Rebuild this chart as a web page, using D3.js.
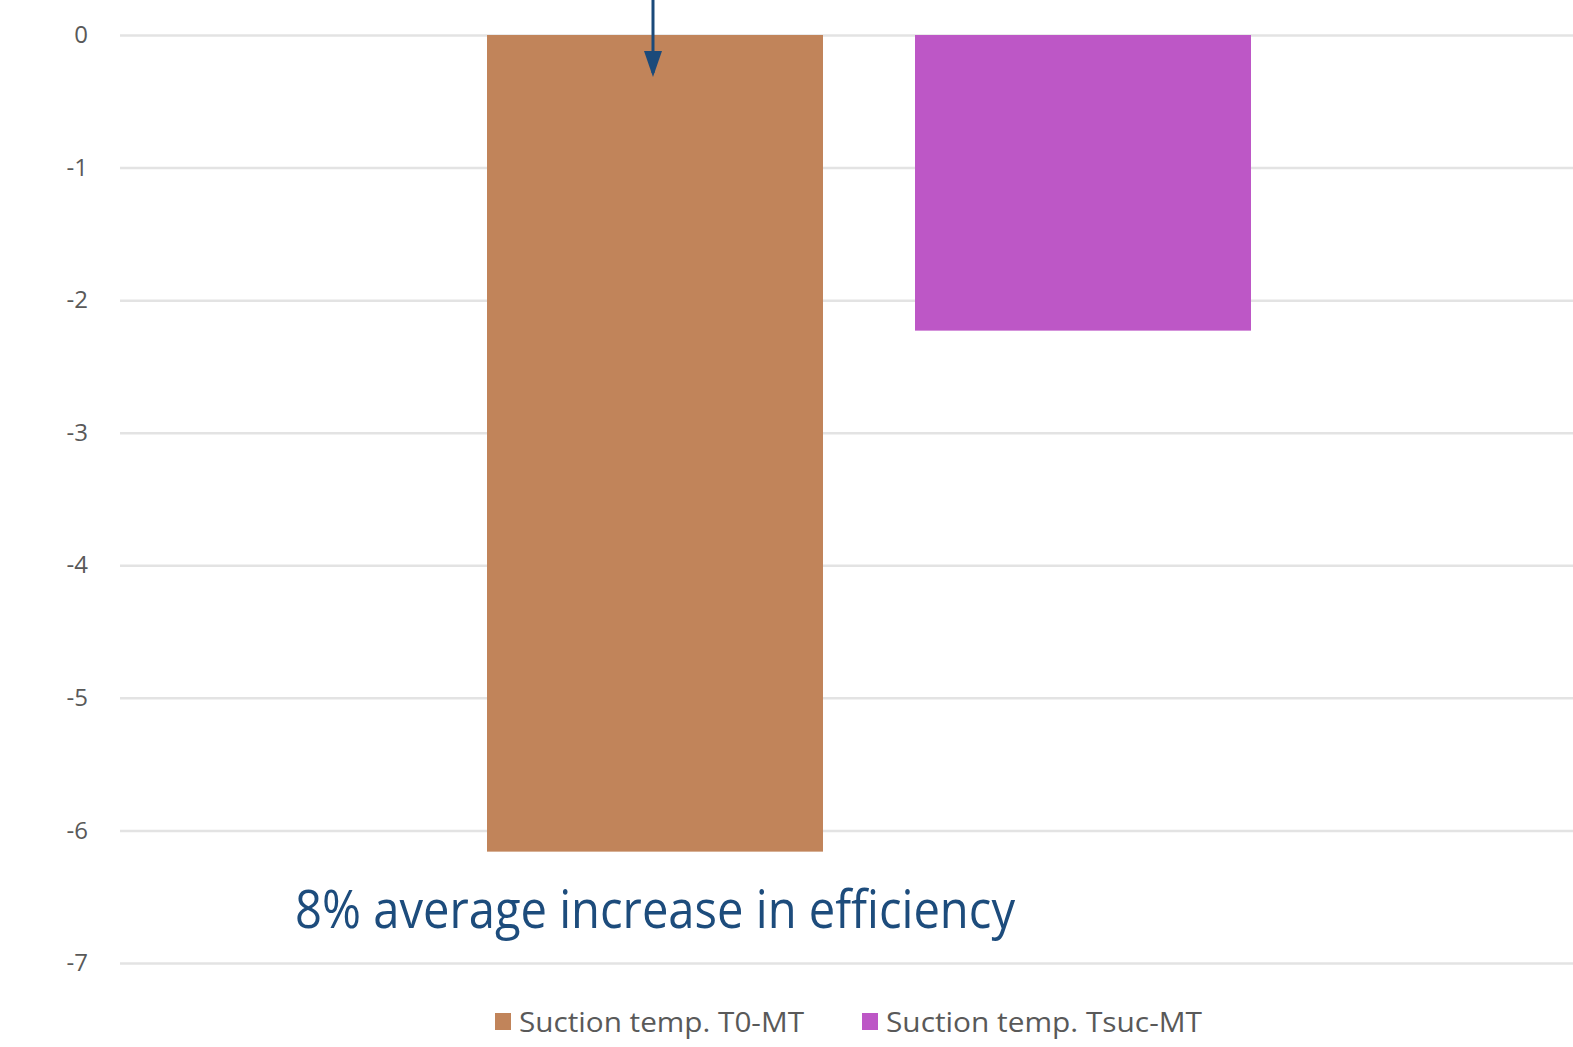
<!DOCTYPE html>
<html>
<head>
<meta charset="utf-8">
<script src="https://cdn.jsdelivr.net/npm/d3@7"></script>
<style>
  body { margin: 0; background: #fff; }
  svg { display: block; font-family: "Open Sans", sans-serif; }
</style>
</head>
<body>
<svg id="chart" width="1573" height="1047"></svg>
<script>
// data
const series = ["Suction temp. T0-MT", "Suction temp. Tsuc-MT"];
const values = [-6.16, -2.23];
const colors = ["#c1845a", "#bd57c6"];
const yTicks = [0, -1, -2, -3, -4, -5, -6, -7];
const note = "8% average increase in efficiency";

const svg = d3.select("#chart");
const width = +svg.attr("width");

// scales
const y = d3.scaleLinear().domain([0, -7]).range([35, 963]);
const x = d3.scaleBand().domain(series).range([487, 1251]).paddingInner(0.215).paddingOuter(0);

// gridlines + tick labels (plain hyphen for the minus sign)
const yAxis = svg.append("g")
  .attr("transform", "translate(120,0)")
  .call(d3.axisLeft(y).tickValues(yTicks).tickSize(-(width - 120)).tickPadding(32).tickFormat(d => String(d)));
yAxis.select(".domain").remove();
yAxis.selectAll(".tick line").attr("stroke", "#e3e3e3").attr("stroke-width", 2.5);
yAxis.selectAll(".tick text")
  .attr("fill", "#595959")
  .style("font-size", "24px")
  .style("font-family", "'Open Sans', sans-serif");

// bars
svg.append("g").selectAll("rect")
  .data(series)
  .join("rect")
  .attr("x", d => x(d))
  .attr("y", y(0))
  .attr("width", x.bandwidth())
  .attr("height", (d, i) => y(values[i]) - y(0))
  .attr("fill", (d, i) => colors[i]);

// arrow pointing at the first bar
const defs = svg.append("defs");
defs.append("marker")
  .attr("id", "head")
  .attr("viewBox", "0 0 26 18")
  .attr("refX", 22).attr("refY", 9)
  .attr("markerWidth", 26 / 3).attr("markerHeight", 6)
  .attr("markerUnits", "strokeWidth")
  .attr("orient", "auto")
  .append("path")
  .attr("d", "M0,0 L26,9 L0,18 Z")
  .attr("fill", "#1b4a7a");

const ax = x(series[0]) + x.bandwidth() / 2 - 2;
svg.append("line")
  .attr("x1", ax).attr("x2", ax)
  .attr("y1", 0).attr("y2", y(0) + 38)
  .attr("stroke", "#1b4a7a")
  .attr("stroke-width", 3)
  .attr("marker-end", "url(#head)");

// annotation
svg.append("text")
  .attr("x", 295)
  .attr("y", 928)
  .attr("fill", "#1d4c7c")
  .style("font-size", "53px")
  .attr("textLength", 720)
  .attr("lengthAdjust", "spacingAndGlyphs")
  .text(note);

// legend
const legendX = [495, 862];
const legend = svg.append("g");
series.forEach((s, i) => {
  const row = legend.append("g").attr("transform", `translate(${legendX[i]},1013)`);
  row.append("rect").attr("width", 16).attr("height", 17).attr("fill", colors[i]);
  row.append("text")
    .attr("x", 24)
    .attr("y", 19)
    .attr("fill", "#595959")
    .style("font-size", "28px")
    .attr("textLength", i === 0 ? 285 : 316)
    .attr("lengthAdjust", "spacingAndGlyphs")
    .text(s);
});
</script>
</body>
</html>
